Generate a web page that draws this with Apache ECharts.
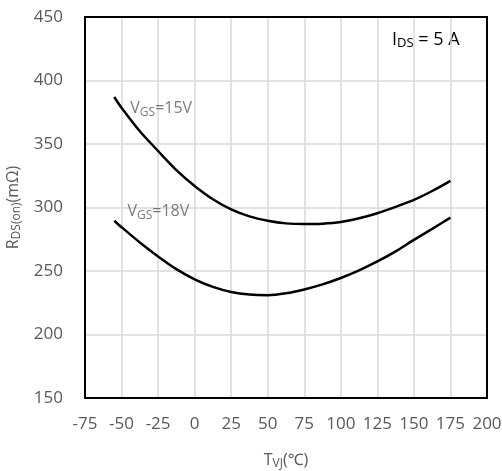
<!DOCTYPE html>
<html>
<head>
<meta charset="utf-8">
<script src="https://cdn.jsdelivr.net/npm/echarts@6/dist/echarts.min.js"></script>
<style>
  html, body { margin: 0; padding: 0; background: #fff; }
  #chart { width: 502px; height: 471px; }
</style>
</head>
<body>
<div id="chart"></div>
<script>
// Junction temperature (°C) sample points
const tempC = [-55, -50, -37.5, -25, -12.5, 0, 12.5, 25, 37.5, 50, 62.5, 75, 87.5, 100, 112.5, 125, 137.5, 150, 162.5, 175];
// On-resistance (mΩ) at VGS = 15 V
const rdsOn15V = [387, 378.5, 360, 344.5, 329.5, 317, 306.5, 298.5, 293, 289.6, 287.5, 287, 287.3, 288.6, 291.5, 295.5, 300.5, 306, 313, 321];
// On-resistance (mΩ) at VGS = 18 V
const rdsOn18V = [289.6, 284.5, 272.5, 261.5, 251.5, 243.5, 237.5, 233.5, 231.5, 231, 232.5, 235.5, 239.5, 244.5, 250.5, 257.5, 265.5, 274.5, 283.2, 292];

// Curve annotations: [temperature, resistance] anchor and text
const curveLabels = [
  { at: [-44, 378], text: '{n|V}{s|GS}{n|=15V}' },
  { at: [-46, 297], text: '{n|V}{s|GS}{n|=18V}' }
];

const xTicks = { min: -75, max: 200, step: 25 };
const yTicks = { min: 150, max: 450, step: 50 };

const FONT = '"Open Sans", "Noto Sans", sans-serif';
const GREY = '#595959';

const pairs = (xs, ys) => xs.map((x, i) => [x, ys[i]]);

const chart = echarts.init(document.getElementById('chart'), null, { renderer: 'canvas' });

const subRich = {
  n: { fontSize: 16, color: GREY, fontFamily: FONT },
  s: { fontSize: 12, color: GREY, fontFamily: FONT, padding: [8, 0, 0, 0] }
};

const frameLine = { show: true, onZero: false, lineStyle: { color: '#000', width: 2 } };
const gridLine = { show: true, lineStyle: { color: '#d9d9d9', width: 1.5 } };

chart.setOption({
  animation: false,
  backgroundColor: '#fff',
  grid: { left: 85, right: 15, top: 17, bottom: 73, outerBoundsMode: 'none', containLabel: false },
  xAxis: [
    {
      type: 'value',
      min: xTicks.min, max: xTicks.max, interval: xTicks.step,
      name: '{n|T}{s|VJ}{n|(℃)}',
      nameLocation: 'middle',
      nameGap: 52,
      nameTextStyle: { rich: subRich },
      axisLine: frameLine,
      axisTick: { show: false },
      axisLabel: { color: GREY, fontSize: 17, fontFamily: FONT, margin: 18 },
      splitLine: gridLine
    },
    {
      type: 'value', position: 'top',
      min: xTicks.min, max: xTicks.max, interval: xTicks.step,
      axisLine: frameLine, axisTick: { show: false }, axisLabel: { show: false }, splitLine: { show: false }
    }
  ],
  yAxis: [
    {
      type: 'value',
      min: yTicks.min, max: yTicks.max, interval: yTicks.step,
      name: '{n|R}{s|DS(on)}{n|(mΩ)}',
      nameLocation: 'middle',
      nameGap: 60,
      nameRotate: 90,
      nameTextStyle: { rich: subRich },
      axisLine: frameLine,
      axisTick: { show: false },
      axisLabel: { color: GREY, fontSize: 17, fontFamily: FONT, margin: 22 },
      splitLine: gridLine
    },
    {
      type: 'value', position: 'right',
      min: yTicks.min, max: yTicks.max, interval: yTicks.step,
      axisLine: frameLine, axisTick: { show: false }, axisLabel: { show: false }, splitLine: { show: false }
    }
  ],
  series: [
    {
      name: 'VGS=15V',
      type: 'line',
      data: pairs(tempC, rdsOn15V),
      smooth: 0.3,
      showSymbol: false,
      lineStyle: { color: '#000', width: 2.5 },
      z: 3
    },
    {
      name: 'VGS=18V',
      type: 'line',
      data: pairs(tempC, rdsOn18V),
      smooth: 0.3,
      showSymbol: false,
      lineStyle: { color: '#000', width: 2.5 },
      z: 3
    },
    {
      name: 'labels',
      type: 'scatter',
      symbolSize: 0,
      silent: true,
      data: curveLabels.map(l => ({ value: l.at, text: l.text })),
      label: {
        show: true, position: 'right', distance: 0,
        formatter: p => p.data.text,
        rich: subRich
      },
      z: 4
    }
  ],
  graphic: [
    {
      type: 'text',
      left: 392, top: 31,
      style: {
        text: '{a|I}{b|DS}{a| = 5 A}',
        rich: {
          a: { fontSize: 18, fill: '#000', fontFamily: FONT },
          b: { fontSize: 13, fill: '#000', fontFamily: FONT, padding: [6, 0, 0, 0] }
        }
      }
    }
  ]
});
</script>
</body>
</html>
